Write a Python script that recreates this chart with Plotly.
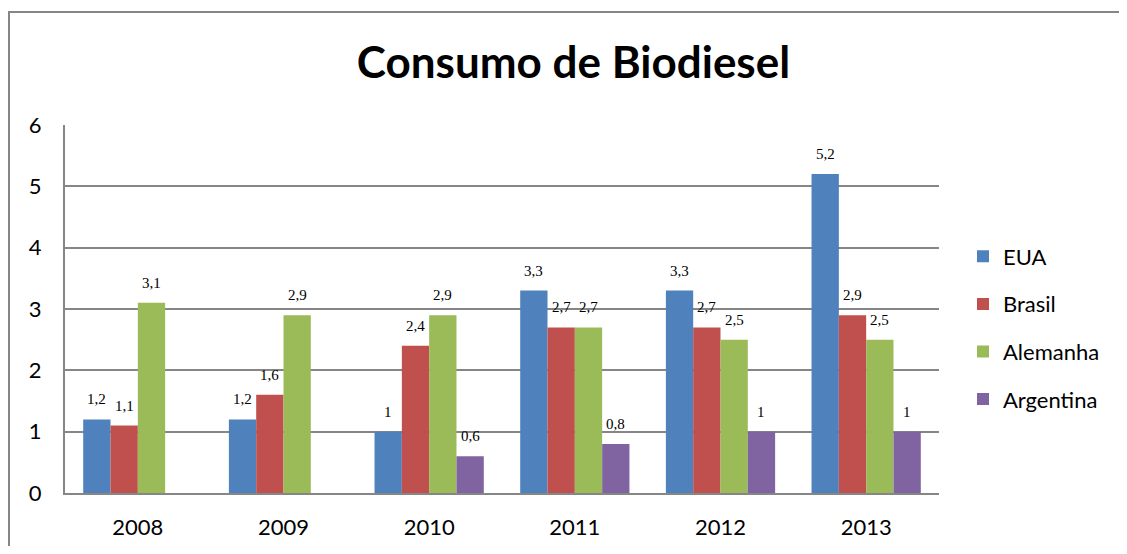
import plotly.graph_objects as go

anos = ["2008", "2009", "2010", "2011", "2012", "2013"]
series = ["EUA", "Brasil", "Alemanha", "Argentina"]
eua = [1.2, 1.2, 1.0, 3.3, 3.3, 5.2]
brasil = [1.1, 1.6, 2.4, 2.7, 2.7, 2.9]
alemanha = [3.1, 2.9, 2.9, 2.7, 2.5, 2.5]
argentina = [None, None, 0.6, 0.8, 1.0, 1.0]
valores = [eua, brasil, alemanha, argentina]
cores = ["#4F81BD", "#C0504D", "#9BBB59", "#8064A2"]

# page body has an 8px margin; figure sized to fill the 1127x554 window
OFF = 8
W, H = 1127 - 2 * OFF, 554 - 2 * OFF
L = 65 - OFF
T = 125 - OFF
R = W - (939 - OFF)
B = H - (493 - OFF)
pw = W - L - R
ph = H - T - B
bargap = 0.25
barw = (pw / len(anos)) * (1 - bargap) / len(series)

fig = go.Figure()
annotations = []
for i, (nome, vals, cor) in enumerate(zip(series, valores, cores)):
    fig.add_trace(go.Bar(
        x=anos, y=vals, name=nome, marker=dict(color=cor, line=dict(width=0)),
        legendgroup=nome,
    ))
    for j, v in enumerate(vals):
        if v is None:
            continue
        annotations.append(dict(
            x=j, y=v, xref="x", yref="y", text=f"{v:g}".replace(".", ","),
            showarrow=False, xshift=(i - 1.5) * barw, yshift=20, yanchor="middle",
            font=dict(family="Liberation Serif", size=15, color="#000000"),
        ))

grid = "#868686"
fig.update_layout(
    width=W, height=H,
    margin=dict(l=L, r=R, t=T, b=B, autoexpand=False),
    paper_bgcolor="white", plot_bgcolor="white",
    barmode="group", bargap=bargap, bargroupgap=0,
    title=dict(text="<b>Consumo de Biodiesel</b>", x=(573.5 - OFF) / W, xanchor="center",
               y=1 - (63 - OFF) / H, yanchor="middle",
               font=dict(family="Lato", size=44, color="#000000")),
    font=dict(family="Lato", size=22, color="#000000"),
    legend=dict(x=(963 - 65) / pw, y=(493 - 328) / ph, xanchor="left", yanchor="middle",
                font=dict(family="Lato", size=22, color="#000000"),
                tracegroupgap=16, bgcolor="rgba(0,0,0,0)"),
    xaxis=dict(type="category", range=[-0.5, len(anos) - 0.5], showgrid=False,
               showline=True, linecolor=grid, linewidth=2,
               ticks="outside", ticklen=14, tickcolor="rgba(0,0,0,0)", automargin=False,
               tickfont=dict(family="Lato", size=22, color="#000000")),
    yaxis=dict(range=[0, 6], dtick=1, showgrid=True, gridcolor=grid, gridwidth=2,
               showline=True, linecolor=grid, linewidth=2, zeroline=False,
               ticks="outside", ticklen=17, tickcolor="rgba(0,0,0,0)", automargin=False,
               tickfont=dict(family="Lato", size=22, color="#000000")),
    annotations=annotations,
    shapes=[dict(type="rect", xref="paper", yref="paper",
                 x0=(9 - 65) / pw, x1=1.5, y0=-1, y1=(493 - 12) / ph,
                 line=dict(color=grid, width=2), fillcolor="rgba(0,0,0,0)", layer="below")],
)

fig.write_html("out.html")
